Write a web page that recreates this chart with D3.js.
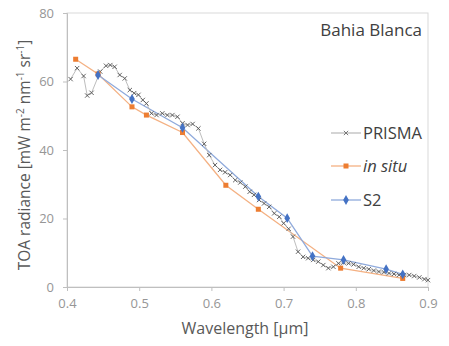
<!DOCTYPE html>
<html><head><meta charset="utf-8">
<script src="https://cdn.jsdelivr.net/npm/d3@7"></script>
<style>body{margin:0;background:#fff;} svg{display:block;font-family:"Open Sans",Lato,sans-serif;}</style>
</head><body><svg id="c" width="449" height="346"></svg>
<script>
const prismaWl = [0.405,0.414,0.423,0.428,0.434,0.446,0.454,0.460,0.466,0.473,0.480,0.487,0.493,0.499,0.505,0.510,0.517,0.524,0.532,0.539,0.546,0.553,0.560,0.567,0.574,0.582,0.590,0.597,0.605,0.612,0.619,0.626,0.633,0.640,0.647,0.653,0.659,0.666,0.673,0.680,0.687,0.694,0.700,0.707,0.713,0.720,0.727,0.734,0.741,0.748,0.755,0.762,0.769,0.776,0.783,0.790,0.797,0.804,0.811,0.818,0.825,0.832,0.839,0.846,0.853,0.860,0.867,0.874,0.881,0.888,0.895,0.900];
const prismaVal = [60.7,63.9,61.6,55.9,56.7,62.9,64.6,64.8,64.3,61.9,60.9,57.5,56.6,56.1,54.6,53.6,50.7,50.2,50.7,50.2,50.2,49.7,47.8,47.3,47.6,46.3,41.8,38.5,35.6,34.2,33.5,32.7,31.2,30.5,29.3,27.8,26.9,25.4,24.4,23.4,21.5,20.5,18.6,17.0,14.7,10.3,8.8,8.4,7.9,7.4,6.4,5.5,5.9,6.9,7.1,6.9,6.6,5.9,5.5,5.2,4.8,4.5,4.3,4.0,3.8,3.5,3.5,3.5,3.2,2.8,2.3,2.0];
const insituWl = [0.412,0.443,0.490,0.510,0.560,0.620,0.665,0.779,0.865];
const insituVal = [66.5,62.2,52.6,50.2,45.1,29.7,22.7,5.5,2.5];
const s2Wl = [0.443,0.490,0.560,0.665,0.705,0.740,0.783,0.842,0.865];
const s2Val = [61.9,54.9,46.5,26.4,20.1,9.0,7.9,5.2,3.7];
const xTicks = [0.4,0.5,0.6,0.7,0.8,0.9];
const yTicks = [0,20,40,60,80];

const svg = d3.select("#c");
const L=67,T=13,R=428,B=287;
const x = d3.scaleLinear().domain([0.4,0.9]).range([L,R]);
const y = d3.scaleLinear().domain([0,80]).range([B,T]);

svg.append("rect").attr("x",L).attr("y",T).attr("width",R-L).attr("height",B-T)
  .attr("fill","none").attr("stroke","#d9d9d9").attr("stroke-width",1);

const xa = svg.append("g").attr("transform",`translate(0,${B})`)
  .call(d3.axisBottom(x).tickValues(xTicks).tickFormat(d3.format(".1f")).tickSize(4).tickPadding(8));
const ya = svg.append("g").attr("transform",`translate(${L},0)`)
  .call(d3.axisLeft(y).tickValues(yTicks).tickSize(4).tickPadding(9));
[xa,ya].forEach(a=>{
  a.selectAll("path,line").attr("stroke","#bfbfbf");
  a.selectAll("text").attr("fill","#969696").style("font-size","13px").style("font-family","'Open Sans',sans-serif");
});

const line = d3.line().x(d=>x(d[0])).y(d=>y(d[1]));
const zip=(a,b)=>a.map((v,i)=>[v,b[i]]);
const pr = zip(prismaWl,prismaVal), ins = zip(insituWl,insituVal), s2 = zip(s2Wl,s2Val);

svg.append("path").datum(ins).attr("d",line).attr("fill","none").attr("stroke","#f4b183").attr("stroke-width",1.3);
svg.append("path").datum(s2).attr("d",line).attr("fill","none").attr("stroke","#8faadc").attr("stroke-width",1.3);
svg.append("path").datum(pr).attr("d",line).attr("fill","none").attr("stroke","#bdbdbd").attr("stroke-width",1);

const cross = d3.symbol().type(d3.symbolX).size(14);
svg.append("g").selectAll("path").data(pr).join("path")
  .attr("transform",d=>`translate(${x(d[0])},${y(d[1])})`).attr("d",cross)
  .attr("stroke","#555").attr("stroke-width",0.9).attr("fill","none");
svg.append("g").selectAll("rect").data(ins).join("rect")
  .attr("x",d=>x(d[0])-2.5).attr("y",d=>y(d[1])-2.5).attr("width",5).attr("height",5).attr("fill","#ed7d31");
const dia = d3.symbol().type(d3.symbolDiamond).size(28);
svg.append("g").selectAll("path").data(s2).join("path")
  .attr("transform",d=>`translate(${x(d[0])},${y(d[1])})`).attr("d",dia)
  .attr("fill","#4472c4");

svg.append("text").attr("x",422).attr("y",36).attr("text-anchor","end").attr("fill","#404040")
  .style("font-size","17px").text("Bahia Blanca");

const leg=[{n:"PRISMA",c:"#bdbdbd",m:"x",y:133},{n:"in situ",c:"#f4b183",m:"sq",y:166,it:true},{n:"S2",c:"#8faadc",m:"d",y:200}];
leg.forEach(l=>{
  const g=svg.append("g");
  g.append("line").attr("x1",331).attr("x2",361).attr("y1",l.y).attr("y2",l.y).attr("stroke",l.c).attr("stroke-width",1.3);
  if(l.m==="x") g.append("path").attr("transform",`translate(346,${l.y})`).attr("d",cross).attr("stroke","#777").attr("fill","none");
  if(l.m==="sq") g.append("rect").attr("x",343.5).attr("y",l.y-2.5).attr("width",5).attr("height",5).attr("fill","#ed7d31");
  if(l.m==="d") g.append("path").attr("transform",`translate(346,${l.y})`).attr("d",dia).attr("fill","#4472c4");
  g.append("text").attr("x",363).attr("y",l.y+6).attr("fill","#404040").style("font-size","16.5px")
    .style("font-style",l.it?"italic":"normal").text(l.n);
});

svg.append("text").attr("x",245).attr("y",334).attr("text-anchor","middle").attr("fill","#595959")
  .style("font-size","16px").text("Wavelength [µm]");
const yt = svg.append("text").attr("transform","translate(30,155) rotate(-90)").attr("text-anchor","middle")
  .attr("fill","#595959").style("font-size","15.5px");
yt.append("tspan").text("TOA radiance [mW m");
yt.append("tspan").attr("dy",-6).style("font-size","10px").text("-2");
yt.append("tspan").attr("dy",6).text(" nm");
yt.append("tspan").attr("dy",-6).style("font-size","10px").text("-1");
yt.append("tspan").attr("dy",6).text(" sr");
yt.append("tspan").attr("dy",-6).style("font-size","10px").text("-1");
yt.append("tspan").attr("dy",6).text("]");
</script></body></html>
